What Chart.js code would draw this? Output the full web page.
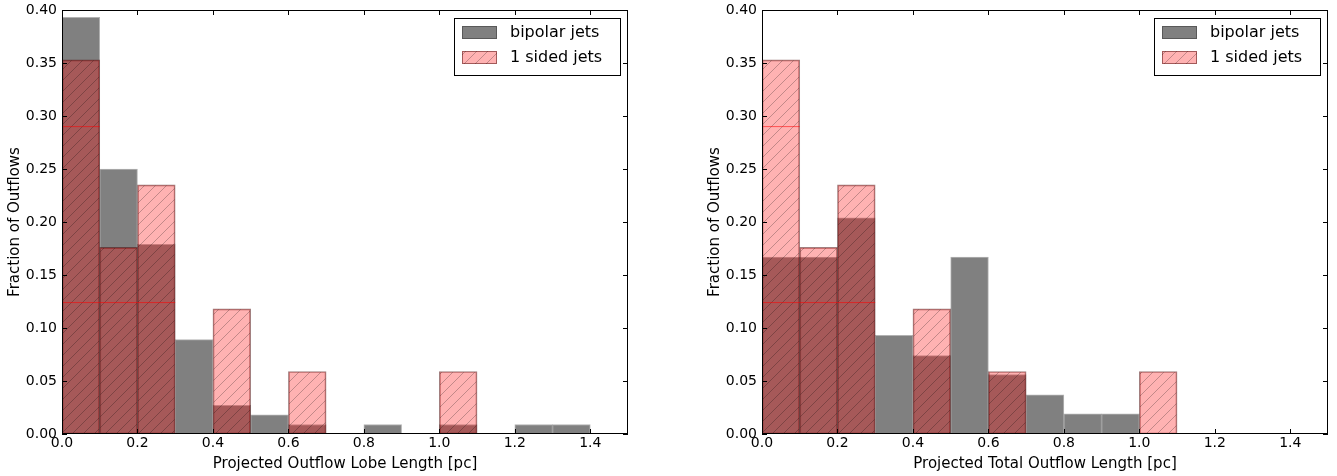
<!DOCTYPE html>
<html>
<head>
<meta charset="utf-8">
<script src="https://cdn.jsdelivr.net/npm/chart.js@4"></script>
<style>
    body { margin: 0; background: #fff; }
    #wrap { position: relative; width: 1337px; height: 476px; }
    canvas { position: absolute; top: 0; }
</style>
</head>
<body>
<div id="wrap">
    <canvas id="lobeChart" width="668" height="476" style="left:0"></canvas>
    <canvas id="totalChart" width="637" height="476" style="left:700px"></canvas>
</div>
<script>
// histogram bins (centres of 0.1 pc wide bins from 0 to 1.5)
const binCenters = [0.05, 0.15, 0.25, 0.35, 0.45, 0.55, 0.65, 0.75, 0.85, 0.95, 1.05, 1.15, 1.25, 1.35, 1.45];

// left panel: lobe length
const lobeBipolar = [0.393, 0.250, 0.179, 0.089, 0.027, 0.018, 0.009, 0, 0.009, 0, 0.009, 0, 0.009, 0.009, 0];
const lobeOneSided = [0.353, 0.176, 0.235, 0, 0.118, 0, 0.059, 0, 0, 0, 0.059, 0, 0, 0, 0];

// right panel: total length
const totalBipolar = [0.167, 0.167, 0.204, 0.093, 0.074, 0.167, 0.056, 0.037, 0.019, 0.019, 0, 0, 0, 0, 0];
const totalOneSided = [0.353, 0.176, 0.235, 0, 0.118, 0, 0.059, 0, 0, 0, 0.059, 0, 0, 0, 0];

// thin red lines visible in both panels (level, bin range end)
const faintLineLevels = [0.29, 0.124];
const faintLineEnds = [0.1, 0.3];

const xTickValues = [0, 0.2, 0.4, 0.6, 0.8, 1.0, 1.2, 1.4];
const yTickValues = [0, 0.05, 0.10, 0.15, 0.20, 0.25, 0.30, 0.35, 0.40];
const seriesLabels = ['bipolar jets', '1 sided jets'];

const FONT = 'DejaVu Sans';

// red fill with '/' hatching
const makeHatch = () => {
    const size = 11;
    const c = document.createElement('canvas');
    c.width = size;
    c.height = size;
    const g = c.getContext('2d');
    g.fillStyle = 'rgba(255,0,0,0.3)';
    g.fillRect(0, 0, size, size);
    g.strokeStyle = 'rgba(0,0,0,0.3)';
    g.lineWidth = 0.8;
    g.beginPath();
    g.moveTo(0, size);
    g.lineTo(size, 0);
    g.moveTo(-2, 2);
    g.lineTo(2, -2);
    g.moveTo(size - 2, size + 2);
    g.lineTo(size + 2, size - 2);
    g.stroke();
    return g.createPattern(c, 'repeat');
};
const hatch = makeHatch();

// frame, inward ticks on all sides, legend inside the plot
const framePlugin = {
    id: 'frame',
    afterDraw(chart) {
        const { ctx, chartArea: a, scales } = chart;
        ctx.save();
        ctx.strokeStyle = '#000';
        ctx.lineWidth = 1;
        ctx.strokeRect(a.left + 0.5, a.top + 0.5, a.right - a.left - 1, a.bottom - a.top - 1);
        ctx.beginPath();
        xTickValues.forEach(v => {
            const px = Math.round(scales.x.getPixelForValue(v)) + 0.5;
            ctx.moveTo(px, a.bottom); ctx.lineTo(px, a.bottom - 5);
            ctx.moveTo(px, a.top); ctx.lineTo(px, a.top + 5);
        });
        yTickValues.forEach(v => {
            const py = Math.round(scales.y.getPixelForValue(v)) + 0.5;
            ctx.moveTo(a.left, py); ctx.lineTo(a.left + 5, py);
            ctx.moveTo(a.right, py); ctx.lineTo(a.right - 5, py);
        });
        ctx.stroke();

        // legend box
        const bx = a.right - 174, by = a.top + 8, bw = 166, bh = 57;
        ctx.fillStyle = '#fff';
        ctx.fillRect(bx, by, bw, bh);
        ctx.strokeRect(bx + 0.5, by + 0.5, bw, bh);
        const sets = chart.data.datasets.slice(0, 2);
        sets.forEach((ds, i) => {
            const ry = by + 8 + i * 25;
            ctx.fillStyle = ds.backgroundColor;
            ctx.fillRect(bx + 8, ry, 35, 13);
            ctx.strokeStyle = ds.borderColor;
            ctx.strokeRect(bx + 8.5, ry + 0.5, 34, 12);
            ctx.fillStyle = '#000';
            ctx.font = `16px "${FONT}"`;
            ctx.textBaseline = 'middle';
            ctx.fillText(ds.label, bx + 56, ry + 7);
        });
        ctx.restore();
    }
};

const buildChart = (canvas, bipolar, oneSided, xTitle, rightPad) => {
    const lineSets = faintLineLevels.map((lvl, i) => ({
        type: 'line',
        data: [{ x: 0, y: lvl }, { x: faintLineEnds[i], y: lvl }],
        borderColor: 'rgba(255,0,0,0.55)',
        borderWidth: 1,
        pointRadius: 0,
        order: -1
    }));

    return new Chart(canvas, {
        type: 'bar',
        data: {
            datasets: [
                {
                    label: seriesLabels[0],
                    data: binCenters.map((x, i) => ({ x, y: bipolar[i] })),
                    backgroundColor: '#808080',
                    borderColor: 'rgba(0,0,0,0.3)',
                    borderWidth: 1,
                    borderSkipped: false,
                    order: 2
                },
                {
                    label: seriesLabels[1],
                    data: binCenters.map((x, i) => ({ x, y: oneSided[i] })),
                    backgroundColor: hatch,
                    borderColor: 'rgba(70,0,0,0.5)',
                    borderWidth: 1,
                    borderSkipped: false,
                    order: 1
                },
                ...lineSets
            ]
        },
        options: {
            responsive: false,
            animation: false,
            layout: { padding: { left: 0, right: rightPad, top: 10, bottom: 0 } },
            datasets: { bar: { grouped: false, barPercentage: 1, categoryPercentage: 1 } },
            plugins: { legend: { display: false }, tooltip: { enabled: false } },
            scales: {
                x: {
                    type: 'linear',
                    min: 0,
                    max: 1.5,
                    offset: false,
                    afterBuildTicks: s => { s.ticks = xTickValues.map(v => ({ value: v })); },
                    afterFit: s => { s.height = 42; s.paddingLeft = 0; s.paddingRight = 0; },
                    grid: { display: false, drawTicks: false, offset: false },
                    border: { display: false },
                    ticks: {
                        color: '#000',
                        font: { family: FONT, size: 14 },
                        padding: 1,
                        maxRotation: 0,
                        callback: v => v.toFixed(1)
                    },
                    title: {
                        display: true,
                        text: xTitle,
                        color: '#000',
                        font: { family: FONT, size: 15 },
                        padding: { top: 0, bottom: 3 }
                    }
                },
                y: {
                    min: 0,
                    max: 0.4,
                    afterBuildTicks: s => { s.ticks = yTickValues.map(v => ({ value: v })); },
                    afterFit: s => { s.width = 62; s.paddingTop = 0; s.paddingBottom = 0; },
                    grid: { display: false, drawTicks: false },
                    border: { display: false },
                    ticks: {
                        color: '#000',
                        font: { family: FONT, size: 14 },
                        padding: 5,
                        callback: v => v.toFixed(2)
                    },
                    title: {
                        display: true,
                        text: 'Fraction of Outflows',
                        color: '#000',
                        font: { family: FONT, size: 15 },
                        padding: { top: 6, bottom: 0 }
                    }
                }
            }
        },
        plugins: [framePlugin]
    });
};

buildChart(document.getElementById('lobeChart'), lobeBipolar, lobeOneSided,
    'Projected Outflow Lobe Length [pc]', 40);
buildChart(document.getElementById('totalChart'), totalBipolar, totalOneSided,
    'Projected Total Outflow Length [pc]', 9);
</script>
</body>
</html>
